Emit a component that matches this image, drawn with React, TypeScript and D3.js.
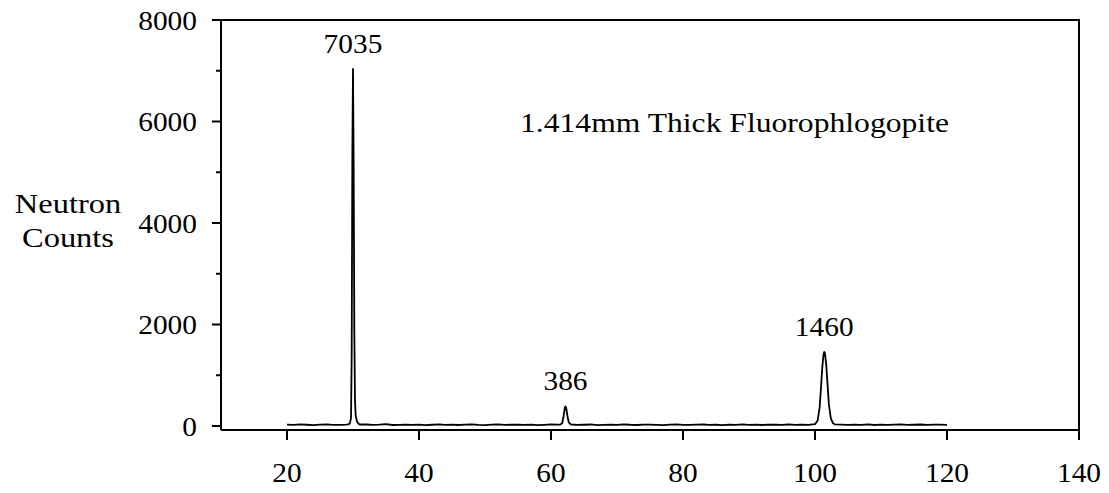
import React from "react";
import * as d3 from "d3";

// Neutron counts across the scan, baseline sampled at whole units from 20 to 120
const baselineStart = 20;
const baselineCounts = [
  28, 22, 31, 25, 19, 27, 33, 24, 21, 26, 30, 30, 30, 22, 26, 35, 20, 24, 29, 23,
  27, 18, 25, 31, 22, 26, 20, 28, 34, 23, 19, 26, 30, 21, 25, 29, 22, 27, 18, 24,
  31, 26, 26, 28, 22, 25, 30, 19, 24, 27, 21, 33, 25, 20, 26, 29, 23, 18, 27, 32,
  24, 21, 26, 30, 22, 25, 19, 28, 24, 31, 22, 26, 20, 29, 25, 23, 30, 21, 27, 24,
  26, 26, 26, 26, 26, 22, 29, 24, 31, 20, 27, 23, 28, 33, 21, 25, 30, 22, 26, 29,
  24,
];

// Peak regions sampled more finely: [position, counts]
const peakA: [number, number][] = [
  [29.2, 30], [29.5, 45], [29.7, 150], [29.8, 1400], [29.9, 5300], [30.0, 7035],
  [30.1, 5100], [30.2, 1900], [30.3, 520], [30.4, 210], [30.6, 90], [30.8, 50], [31.0, 30],
];
const peakB: [number, number][] = [
  [61.4, 28], [61.7, 55], [61.9, 190], [62.1, 365], [62.2, 386], [62.3, 355],
  [62.5, 190], [62.7, 70], [63.0, 30],
];
const peakC: [number, number][] = [
  [100.0, 35], [100.4, 110], [100.7, 360], [100.9, 740], [101.1, 1150], [101.3, 1420],
  [101.4, 1460], [101.5, 1440], [101.7, 1210], [101.9, 820], [102.1, 430], [102.4, 150],
  [102.7, 60], [103.0, 32],
];

const peakLabels = [
  { x: 30.0, value: 7035 },
  { x: 62.2, value: 386 },
  { x: 101.4, value: 1460 },
];

const xTicks = [20, 40, 60, 80, 100, 120, 140];
const yMajorTicks = [0, 2000, 4000, 6000, 8000];
const yMinorTicks = [1000, 3000, 5000, 7000];

const title = "1.414mm Thick Fluorophlogopite";
const yTitle = ["Neutron", "Counts"];

const FONT = "'Palatino Linotype', 'Book Antiqua', Palatino, 'Liberation Serif', serif";

type LabelProps = {
  x: number;
  y: number;
  sx: number;
  anchor?: "start" | "middle" | "end";
  baseline?: string;
  children: React.ReactNode;
};

// Text widened slightly to give the serif face a book-style proportion
function Label({ x, y, sx, anchor = "start", baseline, children }: LabelProps) {
  return (
    <text
      transform={`translate(${x},${y}) scale(${sx},1)`}
      textAnchor={anchor}
      dominantBaseline={baseline}
      fontSize={28}
      fill="#000"
    >
      {children}
    </text>
  );
}

export default function App() {
  const width = 1109;
  const height = 493;
  const left = 221;
  const right = 1079;
  const top = 20;
  const axisY = 430;

  const x = d3.scaleLinear().domain([10, 140]).range([left, right]);
  const y = d3.scaleLinear().domain([0, 8000]).range([426, top]);

  const peaks = [peakA, peakB, peakC];
  const inPeak = (v: number) =>
    peaks.some((p) => v >= p[0][0] && v <= p[p.length - 1][0]);

  const points: [number, number][] = [];
  baselineCounts.forEach((c, i) => {
    const px = baselineStart + i;
    if (!inPeak(px)) points.push([px, c]);
  });
  peaks.forEach((p) => p.forEach((d) => points.push(d)));
  points.sort((a, b) => a[0] - b[0]);

  const line = d3
    .line<[number, number]>()
    .x((d) => x(d[0]))
    .y((d) => y(d[1]));

  const numScale = 1.05;
  const wordScale = 1.13;

  return (
    <svg
      width={width}
      height={height}
      style={{ position: "absolute", left: 0, top: 0, background: "#fff" }}
      fontFamily={FONT}
    >
      <rect width={width} height={height} fill="#fff" />
      {/* frame */}
      <path
        d={`M${left},${axisY}V${top}H${right}V${axisY}H${left}`}
        fill="none"
        stroke="#000"
        strokeWidth={2}
      />
      {/* y ticks */}
      {yMajorTicks.map((t) => (
        <g key={`ym${t}`}>
          <line x1={left - 9} x2={left} y1={y(t)} y2={y(t)} stroke="#000" strokeWidth={2} />
          <Label x={197} y={y(t)} sx={numScale} anchor="end" baseline="central">
            {t}
          </Label>
        </g>
      ))}
      {yMinorTicks.map((t) => (
        <line key={`yn${t}`} x1={left - 5} x2={left} y1={y(t)} y2={y(t)} stroke="#000" strokeWidth={2} />
      ))}
      {/* x ticks */}
      {xTicks.map((t) => (
        <g key={`x${t}`}>
          <line x1={x(t)} x2={x(t)} y1={axisY} y2={axisY + 10} stroke="#000" strokeWidth={2} />
          <Label x={x(t)} y={482} sx={numScale} anchor="middle">
            {t}
          </Label>
        </g>
      ))}
      {/* spectrum */}
      <path d={line(points) ?? ""} fill="none" stroke="#000" strokeWidth={1.8} strokeLinejoin="round" />
      {/* peak values */}
      {peakLabels.map((p) => (
        <Label key={`pl${p.value}`} x={x(p.x)} y={y(p.value) - 16} sx={numScale} anchor="middle">
          {p.value}
        </Label>
      ))}
      <Label x={520} y={132} sx={wordScale}>
        {title}
      </Label>
      {yTitle.map((s, i) => (
        <Label key={s} x={68} y={213 + i * 34} sx={1.16} anchor="middle">
          {s}
        </Label>
      ))}
    </svg>
  );
}
